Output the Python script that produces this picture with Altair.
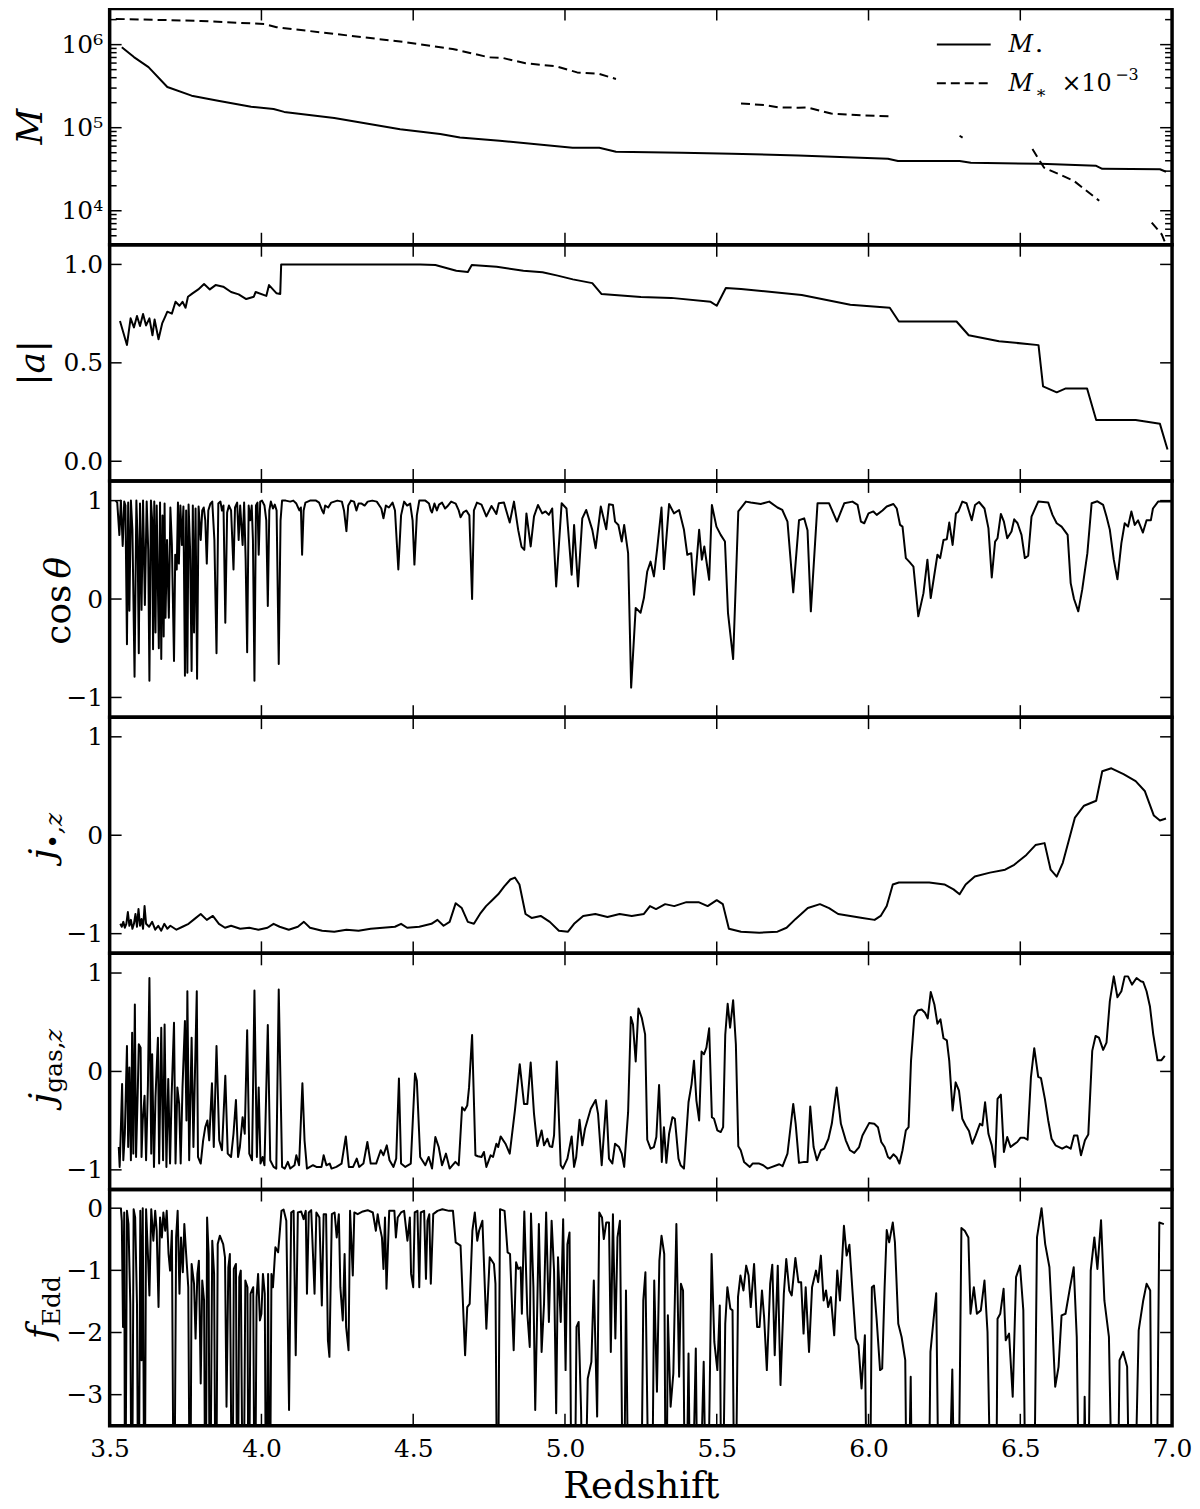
import altair as alt
import pandas as pd

FONT = "DejaVu Serif"
W, H = 1066, 237
MAJ, MIN = 12, 7
TW = 1.5
LW = 2.0

X_DOMAIN = [3.5, 7.0]
X_TICKS = [3.5, 4.0, 4.5, 5.0, 5.5, 6.0, 6.5, 7.0]
X_TITLE = "Redshift"

# ---------------- panel 1: masses ----------------
MBH = [(3.54, 9.3e5), (3.58, 7.08e5), (3.628, 5.37e5), (3.69, 3.09e5), (3.77, 2.43e5),
       (3.857, 2.11e5), (3.966, 1.79e5), (4.04, 1.68e5), (4.075, 1.55e5), (4.24, 1.31e5),
       (4.457, 9.6e4), (4.589, 8.4e4), (4.654, 7.6e4), (4.785, 6.97e4), (5.025, 5.75e4),
       (5.113, 5.75e4), (5.168, 5.13e4), (5.385, 5.0e4), (5.55, 4.86e4), (5.769, 4.64e4),
       (6.064, 4.24e4), (6.097, 3.98e4), (6.30, 3.98e4), (6.337, 3.78e4), (6.566, 3.68e4),
       (6.75, 3.48e4), (6.77, 3.2e4), (6.96, 3.16e4), (6.98, 2.95e4)]
MSTAR_SEGMENTS = [
    [(3.52, 2.04e6), (3.8, 1.93e6), (4.01, 1.77e6), (4.05, 1.62e6), (4.457, 1.09e6),
     (4.63, 8.87e5), (4.687, 7.94e5), (4.75, 7.03e5), (4.796, 6.9e5), (4.87, 5.96e5),
     (4.97, 5.5e5), (5.04, 4.63e5), (5.113, 4.44e5), (5.168, 3.86e5)],
    [(5.58, 1.96e5), (5.66, 1.87e5), (5.703, 1.76e5), (5.769, 1.74e5), (5.80, 1.75e5),
     (5.877, 1.48e5), (5.987, 1.40e5), (6.074, 1.37e5)],
    [(6.30, 8.0e4), (6.31, 7.6e4)],
    [(6.54, 5.53e4), (6.578, 3.31e4), (6.676, 2.30e4), (6.76, 1.32e4)],
    [(6.933, 7.2e3), (6.966, 5.2e3), (6.99, 3.2e3)],
]

# ---------------- panel 2: |a| ----------------
SPIN = [(3.534, 0.713), (3.557, 0.591), (3.569, 0.726), (3.58, 0.68), (3.59, 0.738), (3.60, 0.687),
        (3.61, 0.748), (3.62, 0.69), (3.631, 0.726), (3.641, 0.64), (3.648, 0.72), (3.661, 0.62),
        (3.673, 0.70), (3.683, 0.735), (3.69, 0.76), (3.705, 0.75), (3.717, 0.81), (3.73, 0.79),
        (3.74, 0.81), (3.75, 0.78), (3.758, 0.836), (3.773, 0.853), (3.792, 0.873), (3.811, 0.90),
        (3.83, 0.873), (3.849, 0.895), (3.874, 0.887), (3.9, 0.86), (3.925, 0.848), (3.95, 0.824),
        (3.975, 0.836), (3.981, 0.86), (4.016, 0.84), (4.025, 0.895), (4.05, 0.853), (4.062, 0.85),
        (4.065, 1.0), (4.523, 1.0), (4.573, 0.997), (4.642, 0.968), (4.68, 0.962), (4.693, 0.997),
        (4.775, 0.988), (4.863, 0.968), (4.926, 0.96), (4.976, 0.943), (5.026, 0.924), (5.09, 0.905),
        (5.12, 0.85), (5.25, 0.835), (5.35, 0.83), (5.48, 0.81), (5.5, 0.79), (5.53, 0.88),
        (5.58, 0.875), (5.78, 0.845), (5.94, 0.795), (6.07, 0.78), (6.1, 0.71), (6.29, 0.71),
        (6.33, 0.64), (6.43, 0.61), (6.56, 0.59), (6.575, 0.38), (6.62, 0.35), (6.65, 0.37),
        (6.72, 0.37), (6.75, 0.21), (6.88, 0.21), (6.96, 0.19), (6.985, 0.06)]

# ---------------- panel 3: cos theta ----------------
COS = [(3.520, 1.0), (3.525, 0.98), (3.532, 0.65), (3.537, 1.0), (3.543, 0.54), (3.548, 0.99),
       (3.552, 0.95), (3.557, -0.46), (3.561, 0.98), (3.565, -0.12), (3.570, 1.0), (3.575, 0.7),
       (3.582, -0.79), (3.588, 1.0), (3.592, 0.6), (3.596, -0.55), (3.600, 0.97), (3.605, -0.11),
       (3.610, 1.0), (3.616, -0.06), (3.622, 0.99), (3.627, 0.5), (3.631, -0.83), (3.636, 1.0),
       (3.640, 0.8), (3.643, -0.51), (3.647, 0.99), (3.651, -0.34), (3.655, 0.95), (3.658, 0.3),
       (3.662, -0.5), (3.666, 0.98), (3.670, -0.61), (3.674, 0.85), (3.678, -0.38), (3.681, 0.97),
       (3.684, -0.19), (3.689, 0.6), (3.695, -0.19), (3.700, 0.93), (3.705, 0.55), (3.712, -0.63),
       (3.716, 0.45), (3.721, 0.3), (3.725, 0.98), (3.728, 0.36), (3.733, 0.95), (3.738, 0.55),
       (3.743, 0.94), (3.748, -0.78), (3.752, 0.9), (3.756, -0.75), (3.760, 0.96), (3.765, 0.5),
       (3.770, -0.73), (3.774, 0.95), (3.778, -0.34), (3.783, 0.92), (3.788, -0.81), (3.793, 0.94),
       (3.800, 0.6), (3.805, 0.9), (3.810, 0.93), (3.815, 0.8), (3.820, 0.36), (3.825, 0.9),
       (3.832, 0.97), (3.838, 0.99), (3.845, 0.6), (3.852, -0.55), (3.858, 0.97), (3.865, 0.99),
       (3.870, 0.9), (3.875, 0.95), (3.881, -0.24), (3.887, 0.88), (3.893, 0.95), (3.900, 0.9),
       (3.908, 0.3), (3.913, 0.93), (3.920, 0.98), (3.925, 0.6), (3.930, 0.95), (3.935, 0.7),
       (3.938, 0.55), (3.943, 0.98), (3.948, 0.4), (3.953, -0.54), (3.958, 0.95), (3.963, 0.8),
       (3.968, 0.95), (3.972, 0.6), (3.977, -0.83), (3.982, 0.95), (3.987, 0.98), (3.991, 0.45),
       (3.996, 0.99), (4.002, 1.0), (4.010, 0.95), (4.016, 0.8), (4.021, -0.07), (4.026, 0.9),
       (4.031, 0.99), (4.038, 0.92), (4.044, 0.96), (4.050, 0.9), (4.057, -0.66), (4.063, 0.8),
       (4.068, 1.0), (4.080, 1.0), (4.095, 0.99), (4.105, 1.0), (4.115, 0.97), (4.125, 0.9),
       (4.130, 0.93), (4.134, 0.45), (4.139, 0.9), (4.145, 0.98), (4.160, 1.0), (4.180, 1.0),
       (4.190, 0.98), (4.200, 0.9), (4.205, 0.87), (4.210, 0.95), (4.220, 0.93), (4.230, 0.98),
       (4.240, 0.99), (4.250, 1.0), (4.265, 0.99), (4.272, 0.9), (4.280, 0.69), (4.286, 0.95),
       (4.295, 1.0), (4.305, 0.99), (4.313, 0.9), (4.320, 0.97), (4.330, 0.97), (4.340, 0.95),
       (4.350, 0.99), (4.365, 1.0), (4.380, 0.99), (4.395, 0.92), (4.402, 0.82), (4.410, 0.95),
       (4.420, 0.93), (4.432, 0.98), (4.440, 0.9), (4.451, 0.3), (4.460, 0.85), (4.470, 0.99),
       (4.480, 0.95), (4.490, 0.97), (4.498, 0.8), (4.504, 0.35), (4.512, 0.85), (4.520, 1.0),
       (4.540, 1.0), (4.552, 0.97), (4.558, 0.9), (4.562, 0.88), (4.570, 0.97), (4.578, 0.9),
       (4.585, 0.96), (4.595, 0.98), (4.605, 0.92), (4.612, 0.94), (4.625, 0.99), (4.640, 0.97),
       (4.650, 0.9), (4.656, 0.83), (4.665, 0.88), (4.675, 0.9), (4.685, 0.85), (4.694, 0.0),
       (4.700, 0.9), (4.710, 0.98), (4.725, 0.96),
       (4.741, 0.84), (4.758, 0.946), (4.774, 0.865), (4.782, 0.973), (4.799, 0.98), (4.818, 0.777),
       (4.832, 0.99), (4.846, 0.70), (4.857, 0.53), (4.866, 0.50), (4.873, 0.87), (4.887, 0.534),
       (4.898, 0.84), (4.911, 0.956), (4.925, 0.87), (4.936, 0.89), (4.947, 0.855), (4.958, 0.92),
       (4.971, 0.128), (4.989, 0.973), (5.005, 0.92), (5.022, 0.247), (5.030, 0.753), (5.043, 0.128),
       (5.057, 0.82), (5.070, 0.905), (5.090, 0.703), (5.101, 0.517), (5.118, 0.94), (5.136, 0.71),
       (5.145, 0.963), (5.158, 0.956), (5.165, 0.787), (5.176, 0.753), (5.187, 0.584), (5.195, 0.753),
       (5.208, 0.466), (5.218, -0.90), (5.233, -0.09), (5.249, -0.14), (5.260, 0.01), (5.271, 0.28),
       (5.282, 0.38), (5.293, 0.23), (5.304, 0.517), (5.318, 0.93), (5.326, 0.304), (5.343, 0.966),
       (5.359, 0.87), (5.376, 0.905), (5.392, 0.703), (5.403, 0.45), (5.416, 0.466), (5.425, 0.044),
       (5.442, 0.703), (5.451, 0.40), (5.459, 0.534), (5.475, 0.196), (5.484, 0.956), (5.499, 0.736),
       (5.513, 0.652), (5.527, 0.584), (5.537, -0.14), (5.554, -0.61), (5.571, 0.89), (5.596, 0.99),
       (5.612, 0.98), (5.645, 0.966), (5.673, 0.99), (5.700, 0.93), (5.716, 0.905), (5.733, 0.787),
       (5.752, 0.068), (5.771, 0.80), (5.788, 0.82), (5.799, 0.70), (5.810, -0.125), (5.832, 0.973),
       (5.870, 0.973), (5.896, 0.787), (5.920, 0.973), (5.947, 0.99), (5.964, 0.956), (5.975, 0.787),
       (5.986, 0.77), (6.000, 0.87),
       (6.016, 0.89), (6.027, 0.855), (6.046, 0.90), (6.060, 0.94), (6.082, 0.966), (6.093, 0.92),
       (6.104, 0.753), (6.112, 0.736), (6.123, 0.416), (6.134, 0.38), (6.148, 0.33), (6.164, -0.176),
       (6.181, 0.06), (6.194, 0.40), (6.205, 0.01), (6.227, 0.45), (6.236, 0.416), (6.247, 0.60),
       (6.258, 0.608), (6.266, 0.777), (6.277, 0.55), (6.288, 0.87), (6.296, 0.89), (6.309, 0.99),
       (6.323, 0.973), (6.340, 0.80), (6.351, 0.956), (6.364, 0.986), (6.382, 0.92), (6.395, 0.72),
       (6.406, 0.22), (6.417, 0.584), (6.425, 0.618), (6.436, 0.865), (6.446, 0.787), (6.457, 0.618),
       (6.471, 0.686), (6.480, 0.81), (6.491, 0.77), (6.504, 0.652), (6.515, 0.416), (6.526, 0.44),
       (6.537, 0.838), (6.559, 0.99), (6.592, 0.98), (6.606, 0.855), (6.620, 0.77), (6.636, 0.736),
       (6.656, 0.652), (6.666, 0.162), (6.677, 0.0), (6.691, -0.125), (6.704, 0.095), (6.721, 0.466),
       (6.735, 0.973), (6.754, 0.993), (6.773, 0.956), (6.784, 0.838), (6.795, 0.703), (6.808, 0.40),
       (6.820, 0.20), (6.833, 0.568), (6.844, 0.77), (6.855, 0.736), (6.866, 0.89), (6.877, 0.753),
       (6.888, 0.80), (6.904, 0.676), (6.916, 0.80), (6.930, 0.80), (6.937, 0.92), (6.954, 0.99),
       (7.0, 0.99)]

# ---------------- panel 4: j_bh,z ----------------
JBH = [(3.535, -0.9), (3.54, -0.93), (3.545, -0.88), (3.55, -0.94), (3.555, -0.9), (3.56, -0.78),
       (3.565, -0.92), (3.57, -0.86), (3.575, -0.95), (3.58, -0.9), (3.585, -0.8), (3.59, -0.93),
       (3.595, -0.75), (3.6, -0.92), (3.605, -0.85), (3.61, -0.95), (3.615, -0.72), (3.62, -0.9),
       (3.63, -0.93), (3.64, -0.88), (3.65, -0.96), (3.66, -0.92), (3.67, -0.97), (3.68, -0.9),
       (3.69, -0.95), (3.7, -0.92), (3.72, -0.96), (3.74, -0.93), (3.76, -0.9), (3.78, -0.85),
       (3.8, -0.8), (3.82, -0.86), (3.84, -0.82), (3.86, -0.9), (3.88, -0.94), (3.9, -0.92),
       (3.93, -0.95), (3.96, -0.94), (3.99, -0.96), (4.02, -0.94), (4.04, -0.9), (4.06, -0.93),
       (4.09, -0.96), (4.12, -0.93), (4.14, -0.88), (4.16, -0.94), (4.2, -0.97), (4.24, -0.98),
       (4.28, -0.96), (4.32, -0.97), (4.36, -0.95), (4.4, -0.94), (4.44, -0.93), (4.46, -0.9),
       (4.48, -0.94), (4.52, -0.93), (4.56, -0.9), (4.58, -0.86), (4.6, -0.92), (4.62, -0.88),
       (4.64, -0.69), (4.66, -0.74), (4.68, -0.88), (4.7, -0.9), (4.72, -0.8), (4.74, -0.72),
       (4.76, -0.66), (4.78, -0.6), (4.8, -0.52), (4.82, -0.45), (4.835, -0.43), (4.85, -0.5),
       (4.87, -0.8), (4.89, -0.84), (4.92, -0.82), (4.95, -0.88), (4.98, -0.97), (5.01, -0.98),
       (5.03, -0.9), (5.06, -0.82), (5.1, -0.8), (5.14, -0.83), (5.18, -0.8), (5.22, -0.82),
       (5.26, -0.8), (5.28, -0.72), (5.3, -0.75), (5.33, -0.7), (5.36, -0.72), (5.4, -0.68),
       (5.44, -0.68), (5.47, -0.72), (5.5, -0.66), (5.52, -0.7), (5.54, -0.95), (5.58, -0.98),
       (5.64, -0.99), (5.7, -0.98), (5.73, -0.94), (5.76, -0.85), (5.8, -0.74), (5.84, -0.7),
       (5.87, -0.74), (5.9, -0.8), (5.94, -0.82), (5.98, -0.84), (6.02, -0.86), (6.04, -0.82),
       (6.06, -0.72), (6.08, -0.5), (6.1, -0.48), (6.2, -0.48), (6.25, -0.5), (6.28, -0.55),
       (6.3, -0.6), (6.32, -0.5), (6.35, -0.42), (6.4, -0.38), (6.45, -0.35), (6.48, -0.3),
       (6.52, -0.2), (6.55, -0.1), (6.58, -0.08), (6.6, -0.35), (6.62, -0.42), (6.64, -0.28),
       (6.66, -0.05), (6.68, 0.18), (6.71, 0.3), (6.75, 0.35), (6.77, 0.65), (6.8, 0.68),
       (6.84, 0.62), (6.88, 0.55), (6.91, 0.45), (6.94, 0.2), (6.96, 0.15), (6.98, 0.17)]

# ---------------- panel 5: j_gas,z ----------------
JGAS = [(3.530, -0.768), (3.533, -0.970), (3.536, -0.684), (3.541, -0.128), (3.545, -0.902),
        (3.550, -0.633), (3.557, 0.259), (3.561, -0.768), (3.565, 0.040), (3.570, -0.902),
        (3.574, 0.394), (3.578, -0.835), (3.583, 0.680), (3.587, -0.869), (3.593, -0.145),
        (3.596, 0.276), (3.602, 0.242), (3.605, -0.869), (3.609, -0.498), (3.615, -0.246),
        (3.620, -0.902), (3.626, -0.145), (3.631, 0.949), (3.637, -0.835), (3.640, 0.175),
        (3.646, -0.970), (3.651, -0.263), (3.659, 0.343), (3.663, -0.936), (3.670, 0.444),
        (3.676, -0.902), (3.681, 0.478), (3.687, -0.970), (3.693, -0.077), (3.699, -0.936),
        (3.704, -0.263), (3.712, 0.495), (3.717, -0.936), (3.723, -0.162), (3.729, -0.330),
        (3.734, -0.936), (3.740, -0.162), (3.748, 0.512), (3.753, -0.498), (3.756, 0.815),
        (3.762, -0.902), (3.770, 0.343), (3.776, -0.768), (3.780, -0.162), (3.787, 0.815),
        (3.791, -0.869), (3.800, -0.936), (3.808, -0.700), (3.815, -0.566), (3.822, -0.498),
        (3.828, -0.700), (3.837, -0.121), (3.843, -0.768), (3.852, 0.259), (3.861, -0.700),
        (3.870, -0.801), (3.881, -0.044), (3.889, -0.835), (3.900, -0.869), (3.908, -0.633),
        (3.916, -0.290), (3.923, -0.869), (3.929, -0.768), (3.938, -0.465), (3.945, -0.633),
        (3.953, 0.418), (3.960, -0.835), (3.969, -0.902), (3.977, 0.822), (3.985, -0.869),
        (3.991, -0.162), (3.997, -0.936), (4.004, -0.869), (4.010, -0.953), (4.021, 0.471),
        (4.029, -0.902), (4.040, -0.970), (4.049, -0.987), (4.057, 0.832), (4.068, -0.970),
        (4.077, -0.987), (4.087, -0.919), (4.095, -0.987), (4.109, -0.953), (4.115, -0.852),
        (4.124, -0.953), (4.135, -0.121), (4.142, -0.700), (4.150, -0.987), (4.170, -0.953),
        (4.181, -0.970), (4.198, -0.970), (4.205, -0.852), (4.214, -0.953), (4.225, -0.936),
        (4.231, -0.987), (4.247, -0.970), (4.264, -0.936), (4.278, -0.660), (4.288, -0.970),
        (4.302, -0.970), (4.314, -0.886), (4.322, -0.970), (4.336, -0.936), (4.349, -0.717),
        (4.360, -0.936), (4.378, -0.936), (4.393, -0.801), (4.402, -0.852), (4.413, -0.751),
        (4.422, -0.902), (4.435, -0.970), (4.444, -0.886), (4.453, -0.071), (4.460, -0.936),
        (4.474, -0.970), (4.492, -0.936), (4.506, -0.020), (4.512, -0.094), (4.523, -0.869),
        (4.540, -0.953), (4.551, -0.869), (4.562, -0.987), (4.573, -0.667), (4.584, -0.768),
        (4.595, -0.953), (4.608, -0.835), (4.620, -0.987), (4.639, -0.919), (4.650, -0.953),
        (4.661, -0.364), (4.669, -0.397), (4.678, -0.347), (4.684, -0.162), (4.694, 0.370),
        (4.705, -0.852), (4.713, -0.862),
        (4.725, -0.869), (4.733, -0.818), (4.741, -0.970), (4.755, -0.852), (4.763, -0.869),
        (4.774, -0.734), (4.780, -0.768), (4.788, -0.660), (4.804, -0.734), (4.818, -0.835),
        (4.835, -0.397), (4.851, 0.074), (4.865, -0.330), (4.876, -0.330), (4.887, 0.091),
        (4.898, -0.431), (4.909, -0.758), (4.923, -0.599), (4.931, -0.751), (4.942, -0.684),
        (4.950, -0.761), (4.958, -0.768), (4.964, -0.650), (4.973, 0.101), (4.986, -0.953),
        (4.993, -0.987), (5.008, -0.886), (5.022, -0.660), (5.030, -0.970), (5.037, -0.869),
        (5.048, -0.492), (5.057, -0.751), (5.066, -0.582), (5.085, -0.380), (5.101, -0.290),
        (5.109, -0.431), (5.121, -0.953), (5.136, -0.296), (5.145, -0.886), (5.156, -0.936),
        (5.165, -0.734), (5.178, -0.768), (5.187, -0.835), (5.195, -0.970), (5.208, -0.414),
        (5.217, 0.552), (5.224, 0.478), (5.233, 0.101), (5.242, 0.640), (5.253, 0.545),
        (5.264, 0.377), (5.271, -0.694), (5.282, -0.785), (5.293, -0.768), (5.301, -0.667),
        (5.310, -0.138), (5.319, -0.919), (5.326, -0.566), (5.334, -0.929), (5.343, -0.633),
        (5.354, -0.465), (5.362, -0.481), (5.374, -0.886), (5.381, -0.953), (5.392, -0.987),
        (5.407, -0.313), (5.417, -0.128), (5.425, 0.108), (5.433, -0.296), (5.442, -0.498),
        (5.450, 0.202), (5.458, 0.175), (5.466, 0.242), (5.475, 0.438), (5.484, -0.465),
        (5.491, -0.481), (5.502, -0.599), (5.513, -0.616), (5.521, -0.566), (5.528, 0.370),
        (5.536, 0.687), (5.544, 0.444), (5.554, 0.724), (5.563, 0.276), (5.571, -0.761),
        (5.579, -0.801), (5.590, -0.919), (5.609, -0.970), (5.618, -0.936), (5.640, -0.936),
        (5.653, -0.953), (5.667, -0.987), (5.706, -0.943), (5.717, -0.963), (5.733, -0.835),
        (5.752, -0.330), (5.760, -0.532), (5.771, -0.929), (5.788, -0.919), (5.799, -0.919),
        (5.808, -0.357), (5.819, -0.768), (5.830, -0.902), (5.843, -0.801), (5.854, -0.785),
        (5.868, -0.684), (5.879, -0.532), (5.895, -0.162), (5.909, -0.532), (5.925, -0.700),
        (5.939, -0.801), (5.953, -0.828), (5.969, -0.768), (5.980, -0.650), (6.002, -0.525),
        (6.019, -0.532),
        (6.031, -0.566), (6.042, -0.717), (6.053, -0.768), (6.064, -0.869), (6.071, -0.886),
        (6.082, -0.842), (6.093, -0.875), (6.102, -0.936), (6.112, -0.801), (6.123, -0.599),
        (6.132, -0.566), (6.140, 0.108), (6.151, 0.562), (6.162, 0.620), (6.175, 0.630),
        (6.186, 0.596), (6.195, 0.539), (6.205, 0.808), (6.217, 0.680), (6.227, 0.485),
        (6.237, 0.529), (6.247, 0.337), (6.258, 0.316), (6.266, 0.108), (6.277, -0.397),
        (6.287, -0.111), (6.298, -0.195), (6.309, -0.481), (6.320, -0.549), (6.331, -0.606),
        (6.342, -0.734), (6.353, -0.650), (6.367, -0.532), (6.375, -0.549), (6.384, -0.313),
        (6.395, -0.633), (6.406, -0.751), (6.417, -0.970), (6.425, -0.279), (6.436, -0.236),
        (6.446, -0.818), (6.457, -0.667), (6.468, -0.768), (6.479, -0.741), (6.490, -0.717),
        (6.501, -0.673), (6.512, -0.673), (6.524, -0.694), (6.535, -0.061), (6.546, 0.236),
        (6.559, -0.054), (6.568, -0.067), (6.581, -0.279), (6.592, -0.498), (6.603, -0.684),
        (6.616, -0.751), (6.638, -0.785), (6.652, -0.761), (6.666, -0.785), (6.677, -0.650),
        (6.688, -0.650), (6.700, -0.852), (6.713, -0.700), (6.724, -0.640), (6.737, 0.209),
        (6.748, 0.360), (6.759, 0.343), (6.773, 0.219), (6.784, 0.293), (6.795, 0.714),
        (6.808, 0.966), (6.820, 0.754), (6.833, 0.815), (6.844, 0.966), (6.855, 0.966),
        (6.868, 0.882), (6.883, 0.949), (6.897, 0.916), (6.905, 0.909), (6.916, 0.815),
        (6.927, 0.663), (6.938, 0.377), (6.952, 0.114), (6.965, 0.114), (6.976, 0.158)]

# ---------------- panel 6: f_Edd (values below the axis are far below -3.5) ----------------
LOW = -6.0
FEDD = [(3.537, 0.0), (3.540, -0.203), (3.544, -1.911), (3.548, -0.069), (3.551, LOW), (3.557, -0.043),
        (3.562, -0.256), (3.568, -1.538), (3.573, LOW), (3.579, -0.016), (3.584, -0.149), (3.590, -1.538),
        (3.595, LOW), (3.601, -0.043), (3.605, -2.445), (3.609, 0.0), (3.615, LOW), (3.620, -0.016),
        (3.626, -0.737), (3.631, -1.404), (3.637, -0.016), (3.644, -0.523), (3.650, -0.043), (3.655, -0.363),
        (3.661, -1.591), (3.666, -0.149), (3.672, -0.47), (3.677, -0.069), (3.683, -0.363), (3.688, -0.043),
        (3.694, -0.737), (3.699, -1.004), (3.705, -0.363), (3.712, LOW), (3.719, -0.47), (3.724, -0.043),
        (3.730, -1.377), (3.735, -0.47), (3.741, -1.03), (3.746, -0.256), (3.752, -0.737), (3.759, -1.271),
        (3.765, LOW), (3.770, -0.897), (3.778, -1.217), (3.783, -2.098), (3.789, -1.057), (3.794, -0.844),
        (3.800, -2.819), (3.805, -1.164), (3.811, -1.484), (3.816, LOW), (3.821, -0.149), (3.826, -0.737),
        (3.830, LOW), (3.838, -0.523), (3.844, -1.057), (3.850, LOW), (3.856, -0.577), (3.863, -0.443),
        (3.874, -0.577), (3.880, -0.79), (3.885, -3.193), (3.891, -0.95), (3.896, -0.737), (3.904, LOW),
        (3.909, -0.977), (3.916, -0.897), (3.921, LOW), (3.927, -1.11), (3.932, -1.004), (3.940, LOW),
        (3.947, -1.164), (3.954, -1.271), (3.958, LOW), (3.964, -1.377), (3.973, -1.271), (3.978, LOW),
        (3.984, -1.431), (3.989, -1.057), (3.995, -1.805), (4.000, -1.698), (4.005, -1.057), (4.011, -1.377),
        (4.016, LOW), (4.022, -1.057), (4.027, LOW), (4.033, -1.057), (4.038, -1.271), (4.046, -0.63),
        (4.055, -0.71), (4.066, -0.043), (4.073, -0.021), (4.082, -0.203), (4.091, -3.246), (4.098, -0.069),
        (4.106, -0.043), (4.113, -2.365), (4.120, -0.069), (4.131, -0.053), (4.139, -0.176), (4.146, -0.043),
        (4.150, -1.377), (4.156, -0.069), (4.164, -0.032), (4.175, -1.377), (4.181, -0.069), (4.191, -0.149),
        (4.199, -1.564), (4.205, -0.096), (4.213, -0.096), (4.219, -2.125), (4.224, -2.392), (4.232, -0.096),
        (4.241, -0.069), (4.248, -0.47), (4.255, -0.096), (4.260, -1.271), (4.268, -1.805), (4.274, -0.737),
        (4.279, -1.911), (4.287, -2.285), (4.292, -0.043), (4.301, -1.084), (4.306, -0.069), (4.317, -0.096),
        (4.334, -0.053), (4.350, -0.032), (4.367, -0.069), (4.377, -0.363), (4.383, -0.096), (4.388, -0.256),
        (4.397, -0.47), (4.402, -0.977), (4.407, -0.149), (4.412, -1.297), (4.421, -0.043), (4.438, -0.043),
        (4.443, -0.47), (4.449, -0.149), (4.460, -0.069), (4.470, -0.043), (4.481, -0.523), (4.489, -0.149),
        (4.493, -1.057), (4.500, -1.271), (4.505, -0.069), (4.514, -0.043), (4.520, -1.271), (4.525, -0.069),
        (4.536, -0.043), (4.542, -1.137), (4.547, -0.203), (4.553, -0.096), (4.558, -1.217), (4.566, -0.096),
        (4.580, -0.043), (4.596, -0.016), (4.618, -0.043), (4.631, -0.043), (4.640, -0.55), (4.656, -0.603),
        (4.671, -2.365), (4.678, -1.591), (4.686, -1.538), (4.695, -0.363), (4.703, -0.069), (4.711, -0.523),
        (4.717, -0.363), (4.728, -0.203), (4.741, -1.938), (4.752, -0.79), (4.766, -0.897),
        (4.771, -1.217), (4.778, LOW), (4.786, -0.016), (4.801, -0.043), (4.811, -0.71), (4.819, -0.737),
        (4.831, -2.285), (4.839, -0.870), (4.846, -0.977), (4.854, -0.95), (4.858, -1.698), (4.866, -0.053),
        (4.876, -1.698), (4.884, -2.232), (4.888, -0.085), (4.896, -1.271), (4.902, -3.246), (4.914, -0.256),
        (4.923, -2.312), (4.931, -1.538), (4.938, -0.069), (4.947, -1.831), (4.956, -0.203), (4.964, -1.004),
        (4.971, -3.3), (4.977, -0.79), (4.986, -1.831), (4.994, -0.176), (5.002, -2.605), (5.008, -0.577),
        (5.015, -0.39), (5.023, LOW), (5.030, LOW), (5.038, -1.911), (5.045, -1.831), (5.053, -3.246),
        (5.062, LOW), (5.075, -2.739), (5.087, -2.472), (5.095, -1.164), (5.106, -3.353), (5.113, -0.069),
        (5.122, -0.149), (5.128, -0.497), (5.136, -0.23), (5.145, -0.23), (5.151, -2.312), (5.158, -0.096),
        (5.166, -2.098), (5.173, -0.47), (5.181, -0.203), (5.193, LOW), (5.201, -1.324), (5.211, LOW),
        (5.249, LOW), (5.258, -1.484), (5.265, -1.03), (5.279, LOW), (5.285, LOW), (5.294, -1.164),
        (5.303, -2.952), (5.311, -0.844), (5.318, -0.443), (5.327, -0.737), (5.333, LOW), (5.339, -1.724),
        (5.348, -3.193), (5.357, -2.659), (5.367, -0.256), (5.376, -2.712), (5.382, -1.217), (5.389, -1.324),
        (5.397, LOW), (5.407, -2.338), (5.415, LOW), (5.431, -2.258), (5.439, LOW), (5.457, -2.472),
        (5.468, LOW), (5.483, -0.737), (5.492, -2.152), (5.502, -2.605), (5.510, -1.564), (5.517, LOW),
        (5.528, -1.858), (5.535, -1.271), (5.545, -1.618), (5.552, -1.644), (5.560, LOW), (5.570, -1.431),
        (5.578, -1.084), (5.588, -1.324), (5.597, -0.924), (5.605, -1.084), (5.612, -1.591), (5.623, -0.897),
        (5.633, -1.911), (5.641, -1.911), (5.649, -1.324), (5.656, -1.751), (5.665, -2.605), (5.676, -1.217),
        (5.683, -0.908), (5.691, -2.365), (5.701, -0.924), (5.710, -2.846), (5.721, -1.377), (5.729, -0.817),
        (5.739, -1.324), (5.747, -1.404), (5.759, -0.801), (5.769, -1.19), (5.778, -1.19), (5.786, -2.018),
        (5.793, -1.271), (5.804, -2.312), (5.814, -1.271), (5.827, -1.004), (5.834, -1.19), (5.843, -0.763),
        (5.852, -1.484), (5.860, -1.324), (5.867, -1.591), (5.876, -1.431), (5.887, -2.045), (5.897, -1.004),
        (5.906, -1.484), (5.919, -0.283), (5.928, -0.763), (5.937, -0.587), (5.947, -1.324), (5.958, -2.098),
        (5.967, -2.205), (5.977, -2.899), (5.988, -2.045), (5.997, LOW), (6.003, LOW), (6.011, -1.271),
        (6.018, -1.244), (6.027, -1.805), (6.038, -2.605), (6.045, -2.579), (6.053, -1.271), (6.060, -0.352),
        (6.068, -0.55), (6.080, -0.23), (6.087, -0.55), (6.098, -1.858), (6.109, -2.072), (6.121, -2.445),
        (6.128, LOW), (6.139, -2.712), (6.146, LOW), (6.196, LOW), (6.204, -2.312), (6.214, -1.805),
        (6.223, -1.367), (6.234, LOW), (6.259, LOW), (6.276, -2.595), (6.287, LOW), (6.294, LOW),
        (6.306, -0.32), (6.317, -0.363), (6.329, -0.47), (6.336, -1.698), (6.347, -1.271), (6.357, -1.698),
        (6.370, -1.644), (6.382, -1.164), (6.392, -1.991), (6.407, LOW), (6.419, LOW), (6.425, -1.778),
        (6.434, -1.698), (6.445, -1.297), (6.452, -2.125), (6.463, -2.018), (6.475, -3.033), (6.486, -1.11),
        (6.499, -0.924), (6.510, -1.644), (6.520, LOW), (6.543, LOW), (6.555, -0.47), (6.570, 0.0),
        (6.582, -0.577), (6.596, -0.95), (6.606, -1.911), (6.615, -2.872), (6.626, -2.552), (6.636, -1.724),
        (6.649, -1.698), (6.664, -1.271), (6.676, -0.95), (6.686, -2.072), (6.697, LOW), (6.706, LOW),
        (6.712, -3.033), (6.721, LOW), (6.732, -1.004), (6.744, -0.47), (6.754, -0.977), (6.766, -0.192),
        (6.777, -1.484), (6.792, -2.072), (6.807, LOW), (6.818, LOW), (6.827, -2.445), (6.839, -2.312),
        (6.852, -2.552), (6.863, LOW), (6.872, LOW), (6.890, -1.965), (6.905, -1.484), (6.916, -1.217),
        (6.928, -1.324), (6.935, LOW), (6.947, LOW), (6.958, -0.23), (6.973, -0.256)]

# ---------------- text ----------------
LEGEND_LINES = [("solid", 36), ("dashed", 75)]
LEGEND_TEXT = [  # text, x, y, size, italic
    ("M", 902, 44, 24, True), ("•", 929, 47, 12, False),
    ("M", 902, 83, 24, True), ("∗", 929, 90, 17, False), ("×", 955, 83, 24, False),
    ("10", 975, 83, 24, False), ("−3", 1009, 72, 16, False),
]
# panel titles: list of (text, x, y, size, italic, align)
TITLES = [
    [("M", -68, H / 2, 35, True, "center")],
    [("|a|", -66, H / 2, 36, True, "center")],
    [("cos", -40, 104, 36, False, "right"), ("θ", -40, 98, 36, True, "left")],
    [("j", -56, 132, 36, True, "right"), ("•,z", -48, 132, 25, True, "left")],
    [("j", -56, 140, 36, True, "right"), ("gas,", -48, 140, 25, False, "left"),
     ("z", -48, 89, 25, True, "left")],
    [("f", -58, 137, 36, True, "right"), ("Edd", -50, 137, 25, False, "left")],
]

xs = alt.Scale(domain=X_DOMAIN, nice=False, zero=False)


def frame(pairs, seg=0):
    return pd.DataFrame({"z": [p[0] for p in pairs], "v": [p[1] for p in pairs], "seg": seg})


def series(df, ys, yax, xax, dash=None, detail=False):
    kw = dict(color="black", strokeWidth=LW, clip=True, strokeJoin="round")
    if dash:
        kw["strokeDash"] = dash
    enc = dict(x=alt.X("z:Q", scale=xs, axis=xax), y=alt.Y("v:Q", scale=ys, axis=yax))
    if detail:
        enc["detail"] = "seg:N"
    return alt.Chart(df).mark_line(**kw).encode(**enc)


def ticks(ys, yax, xax, major, minor=()):
    out = []
    ydf = pd.DataFrame({"v": list(major)})
    for a, b in ((0, MAJ), (W, W - MAJ)):
        out.append(alt.Chart(ydf).mark_rule(color="black", strokeWidth=TW).encode(
            y=alt.Y("v:Q", scale=ys, axis=yax), x=alt.value(a), x2=alt.value(b)))
    if len(minor):
        mdf = pd.DataFrame({"v": list(minor)})
        for a, b in ((0, MIN), (W, W - MIN)):
            out.append(alt.Chart(mdf).mark_rule(color="black", strokeWidth=TW).encode(
                y=alt.Y("v:Q", scale=ys, axis=yax), x=alt.value(a), x2=alt.value(b)))
    xdf = pd.DataFrame({"z": X_TICKS})
    for a, b in ((0, MAJ), (H, H - MAJ)):
        out.append(alt.Chart(xdf).mark_rule(color="black", strokeWidth=TW).encode(
            x=alt.X("z:Q", scale=xs, axis=xax), y=alt.value(a), y2=alt.value(b)))
    return out


def texts(items, angle=270):
    out = []
    for t, x, y, size, ital, align in items:
        out.append(alt.Chart(pd.DataFrame({"t": [t]})).mark_text(
            font=FONT, fontSize=size, fontStyle="italic" if ital else "normal",
            angle=angle, align=align, baseline="alphabetic", color="black").encode(
            text="t:N", x=alt.value(x), y=alt.value(y)))
    return out


def yaxis(values, fmt=None, expr=None):
    kw = dict(values=values, ticks=False, domain=False, grid=False, title=None,
              labelPadding=7, labelFont=FONT, labelFontSize=25, labelColor="black")
    if fmt:
        kw["format"] = fmt
    if expr:
        kw["labelExpr"] = expr
    return alt.Axis(**kw)


def panel(layers):
    return alt.layer(*layers).properties(width=W, height=H)


# panel 1
ys1 = alt.Scale(type="log", domain=[3900, 2.72e6], nice=False)
ya1 = yaxis([1e4, 1e5, 1e6], expr="datum.value > 5e5 ? '10⁶' : datum.value > 5e4 ? '10⁵' : '10⁴'")
minor1 = [m * 10 ** e for e in range(3, 7) for m in range(2, 10) if 3900 < m * 10 ** e < 2.72e6]
mstar_df = pd.concat([frame(s, i) for i, s in enumerate(MSTAR_SEGMENTS)])
anchor = alt.Chart(pd.DataFrame({"a": [0]})).mark_rule(strokeOpacity=0, stroke="white").encode(
    x=alt.value(-100), x2=alt.value(-100), y=alt.value(0), y2=alt.value(1))
leg_rules = [
    alt.Chart(pd.DataFrame({"a": [0]})).mark_rule(
        color="black", strokeWidth=LW, **({"strokeDash": [9, 5]} if style == "dashed" else {})).encode(
        x=alt.value(830), x2=alt.value(884), y=alt.value(yy))
    for style, yy in LEGEND_LINES
]
leg_text = texts([(t, x, y, s, it, "left") for t, x, y, s, it in LEGEND_TEXT], angle=0)
p1 = panel([series(frame(MBH), ys1, ya1, None),
            series(mstar_df, ys1, ya1, None, dash=[9, 5], detail=True)]
           + ticks(ys1, ya1, None, [1e4, 1e5, 1e6], minor1)
           + texts(TITLES[0]) + leg_rules + leg_text + [anchor])

# panel 2
ys2 = alt.Scale(domain=[-0.1, 1.1], nice=False, zero=False)
ya2 = yaxis([0.0, 0.5, 1.0], fmt=".1f")
p2 = panel([series(frame(SPIN), ys2, ya2, None)] + ticks(ys2, ya2, None, [0.0, 0.5, 1.0])
           + texts(TITLES[1]))

# panels 3-5
ys3 = alt.Scale(domain=[-1.2, 1.2], nice=False, zero=False)
ya3 = yaxis([-1, 0, 1], fmt="d")
p3 = panel([series(frame(COS), ys3, ya3, None)] + ticks(ys3, ya3, None, [-1, 0, 1]) + texts(TITLES[2]))
p4 = panel([series(frame(JBH), ys3, ya3, None)] + ticks(ys3, ya3, None, [-1, 0, 1]) + texts(TITLES[3]))
p5 = panel([series(frame(JGAS), ys3, ya3, None)] + ticks(ys3, ya3, None, [-1, 0, 1]) + texts(TITLES[4]))

# panel 6
ys6 = alt.Scale(domain=[-3.5, 0.3], nice=False, zero=False)
ya6 = yaxis([0, -1, -2, -3], fmt="d")
xa6 = alt.Axis(values=X_TICKS, format=".1f", ticks=False, domain=False, grid=False, title=X_TITLE,
               labelFont=FONT, labelFontSize=25, labelColor="black", labelPadding=11, labelFlush=False,
               titleFont=FONT, titleFontSize=37, titleFontWeight="normal", titleColor="black",
               titlePadding=7)
p6 = panel([series(frame(FEDD), ys6, ya6, xa6)] + ticks(ys6, ya6, xa6, [0, -1, -2, -3]) + texts(TITLES[5]))

chart = alt.vconcat(p1, p2, p3, p4, p5, p6, spacing=0, bounds="flush").properties(
    padding={"left": 0, "top": -5, "right": -2, "bottom": 0}
).configure_view(stroke="black", strokeWidth=3.5)

chart.save("out.html", embed_options={"renderer": "svg", "actions": False})
